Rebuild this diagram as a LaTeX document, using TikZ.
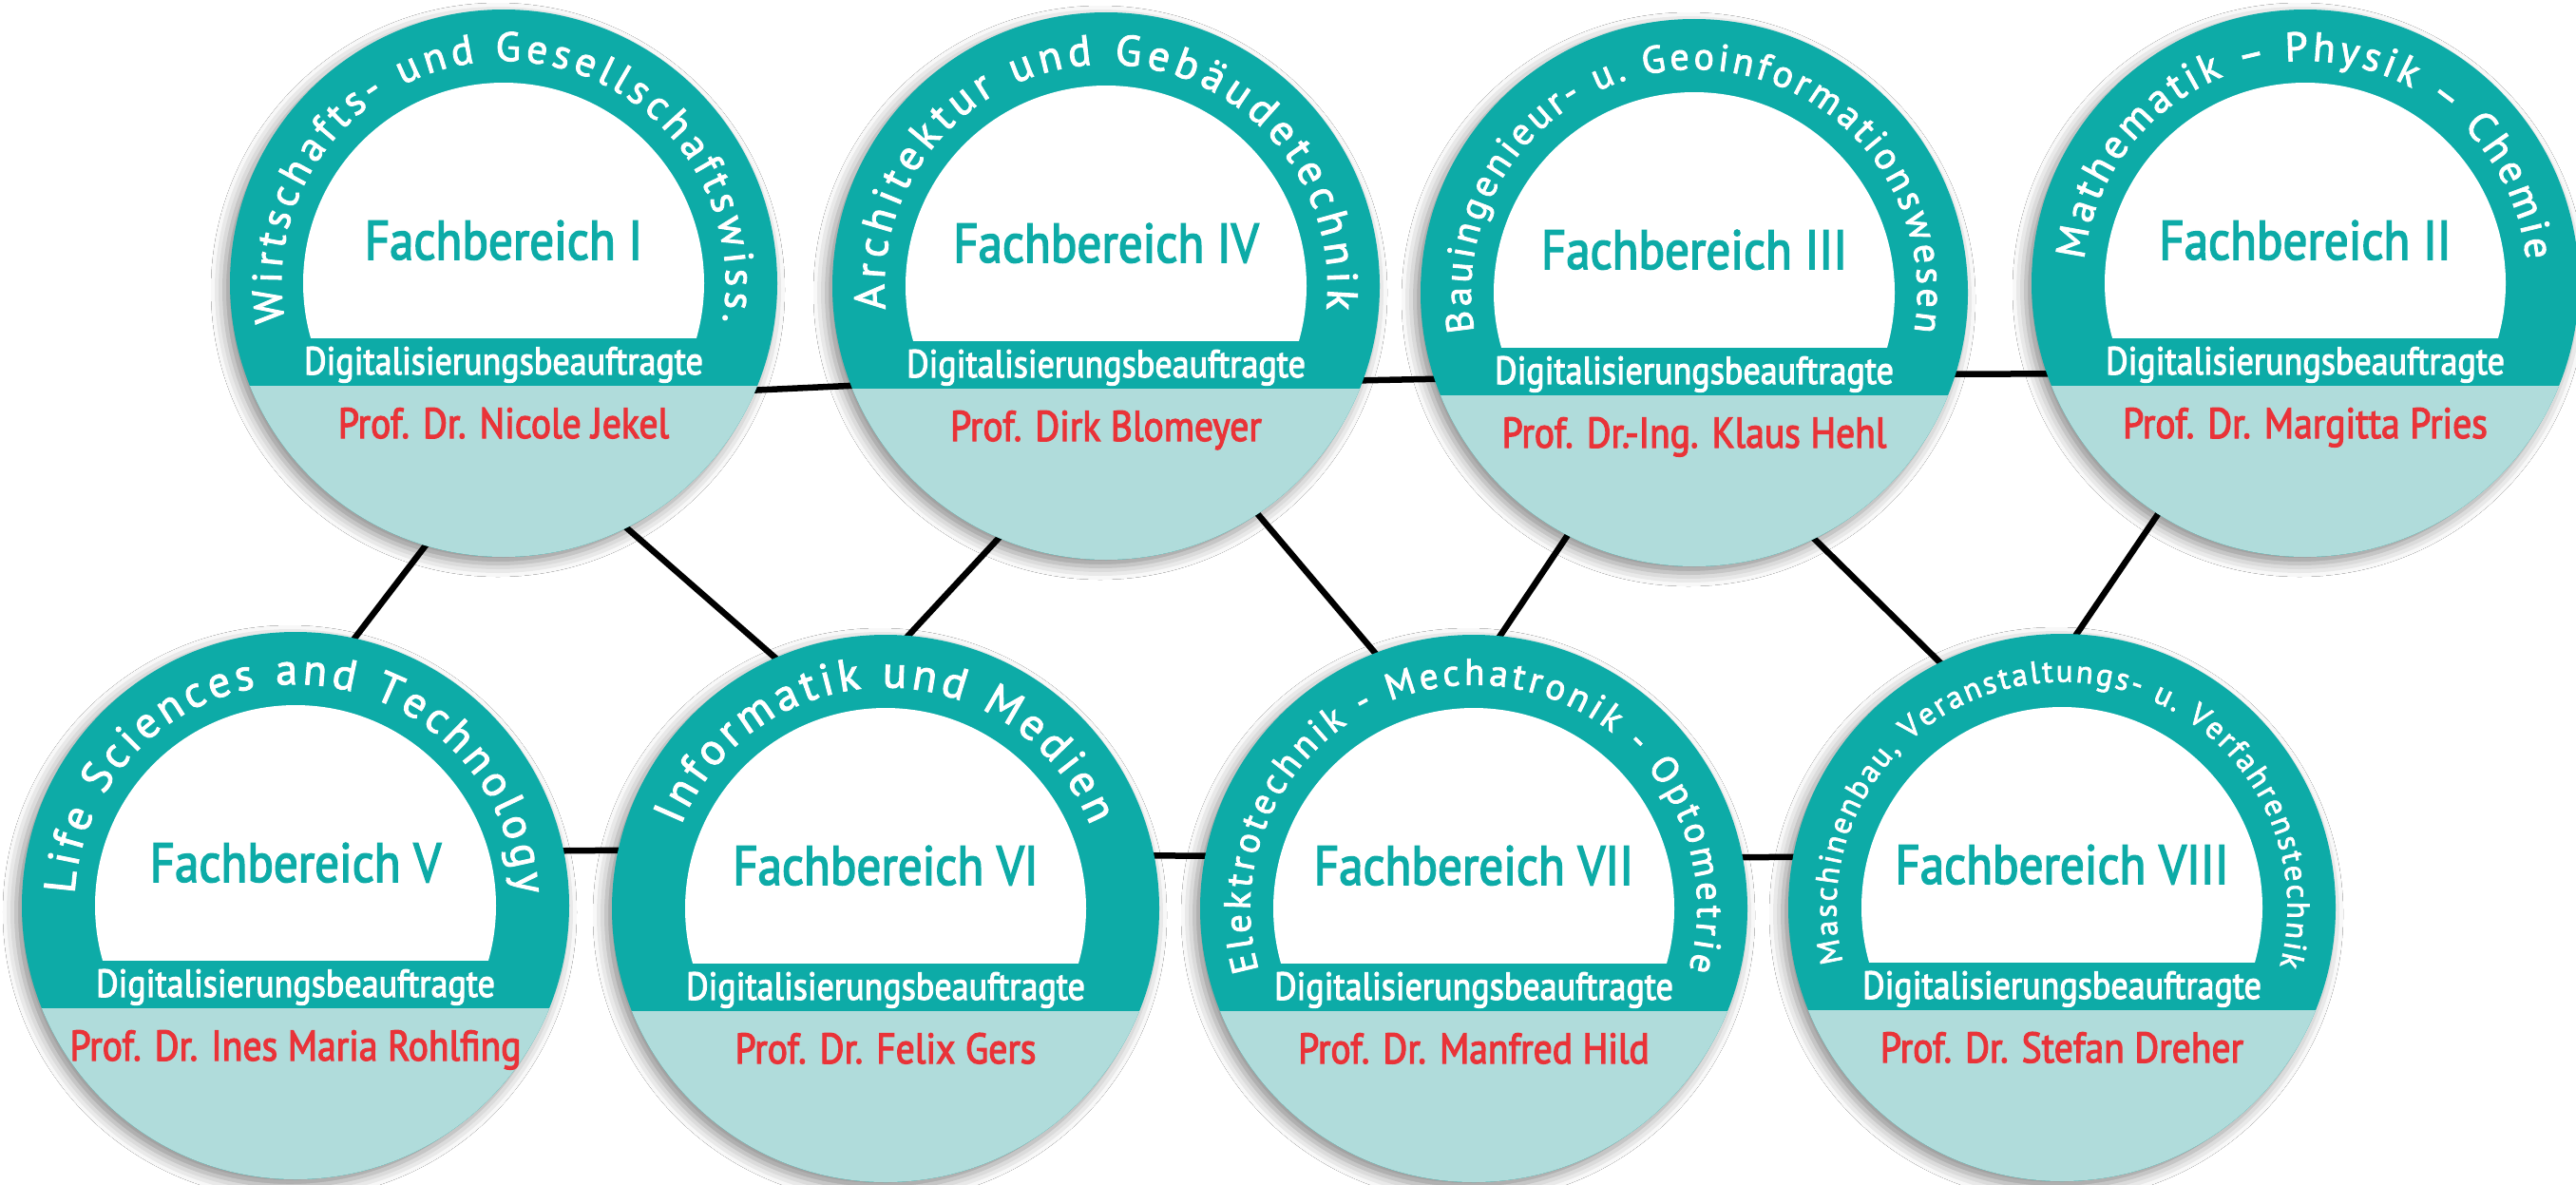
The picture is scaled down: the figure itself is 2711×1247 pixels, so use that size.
\documentclass[tikz,border=0pt]{standalone}
\usepackage{fontspec}
\setmainfont{PT Sans}[FakeStretch=0.88, FakeBold=2.6]
\newfontfamily\arcfont{PT Sans}[FakeBold=2.2]
\usetikzlibrary{calc,decorations.text,shadows.blur,backgrounds}

\definecolor{fbteal}{HTML}{0DABA7}
\definecolor{fblight}{HTML}{B0DCDB}
\definecolor{fbred}{HTML}{E93338}

\tikzset{
  disc/.style={circle, minimum size=576pt, inner sep=0pt, fill=fbteal,
    blur shadow={shadow xshift=-6pt, shadow yshift=-7pt,
                 shadow blur radius=14pt, shadow opacity=45}},
  fbtitle/.style={anchor=base, inner sep=0pt, text=fbteal,
    font=\fontsize{58pt}{58pt}\selectfont},
  fbrole/.style={anchor=base, inner sep=0pt, text=white,
    font=\fontsize{41pt}{41pt}\selectfont},
  fbname/.style={anchor=base, inner sep=0pt, text=fbred,
    font=\fontsize{45pt}{45pt}\selectfont},
  link/.style={line width=6.5pt, black},
}

% #1 name, #2/#3 centre, #4 arc font size, #5/#6 arc angles,
% #7 arc caption, #8 numeral, #9 person
\newcommand\fbdisc[9]{%
  \node[disc] (#1) at (#2,-#3) {};
  \begin{scope}
    \clip (#1.center) circle (288);
    \fill[fblight] ($(#1.center)+(-300,-108)$) rectangle ($(#1.center)+(300,-300)$);
  \end{scope}
  \begin{scope}
    \clip ($(#1.center)+(-300,-57)$) rectangle ($(#1.center)+(300,300)$);
    \fill[white] (#1.center) circle (211);
  \end{scope}
  \pgfmathsetmacro\arcrad{249-0.35*#4}
  \path[decorate, decoration={text along path, text color=white,
      text align={fit to path},
      text={|\arcfont\fontsize{#4pt}{#4pt}\selectfont|#7}}]
    ($(#1.center)+(#5:\arcrad)$) arc[start angle=#5, end angle=#6, radius=\arcrad];
  \node[fbtitle] at ($(#1.center)+(0,25)$) {Fachbereich #8};
  \node[fbrole] at ($(#1.center)+(0,-96)$) {Digitalisierungsbeauftragte};
  \node[fbname] at ($(#1.center)+(0,-163)$) {#9};
}

\begin{document}
\begin{tikzpicture}[x=1pt, y=1pt]
\useasboundingbox (0,0) rectangle (2711,-1247);

\fbdisc{fbI}{530}{298}{43}{190}{-10}{Wirtschafts- und Gesellschaftswiss.}{I}{Prof. Dr. Nicole Jekel}
\fbdisc{fbIV}{1164}{301}{45}{186}{-6}{Architektur und Gebäudetechnik}{IV}{Prof. Dirk Blomeyer}
\fbdisc{fbIII}{1783}{308}{40}{190}{-10}{Bauingenieur- u. Geoinformationswesen}{III}{Prof. Dr.-Ing. Klaus Hehl}
\fbdisc{fbII}{2426}{298}{43}{174}{6}{Mathematik – Physik – Chemie}{II}{Prof. Dr. Margitta Pries}
\fbdisc{fbV}{311}{953}{46}{177}{3}{Life Sciences and Technology}{V}{Prof. Dr. Ines Maria Rohlfing}
\fbdisc{fbVI}{932}{956}{47}{158}{22}{Informatik und Medien}{VI}{Prof. Dr. Felix Gers}
\fbdisc{fbVII}{1551}{956}{39}{196}{-16}{Elektrotechnik - Mechatronik - Optometrie}{VII}{Prof. Dr. Manfred Hild}
\fbdisc{fbVIII}{2170}{955}{33}{194}{-15}{Maschinenbau, Veranstaltungs- u. Verfahrenstechnik}{VIII}{Prof. Dr. Stefan Dreher}

\begin{scope}[on background layer]
  \fill[white] (0,0) rectangle (2711,-1247);
  % upper row
  \draw[link] ($(fbI)+(170,-117)$) -- ($(fbIV)+(-164,-100)$);
  \draw[link] ($(fbIV)+(186,-101)$) -- ($(fbIII)+(-183,-89)$);
  \draw[link] ($(fbIII)+(197,-86)$) -- ($(fbII)+(-176,-95)$);
  % diagonals between the rows
  \draw[link] ($(fbI)+(-50,-234)$) -- ($(fbV)+(29,238)$);
  \draw[link] ($(fbI)+(90,-223)$) -- ($(fbVI)+(-82,234)$);
  \draw[link] ($(fbIV)+(-84,-234)$) -- ($(fbVI)+(8,270)$);
  \draw[link] ($(fbIV)+(136,-212)$) -- ($(fbVII)+(-71,230)$);
  \draw[link] ($(fbIII)+(-113,-225)$) -- ($(fbVII)+(9,259)$);
  \draw[link] ($(fbIII)+(107,-240)$) -- ($(fbVIII)+(-100,230)$);
  \draw[link] ($(fbII)+(-136,-215)$) -- ($(fbVIII)+(0,265)$);
  % lower row
  \draw[link] ($(fbV)+(189,57)$) -- ($(fbVI)+(-182,62)$);
  \draw[link] ($(fbVI)+(168,56)$) -- ($(fbVII)+(-171,55)$);
  \draw[link] ($(fbVII)+(169,53)$) -- ($(fbVIII)+(-170,54)$);
\end{scope}
\end{tikzpicture}
\end{document}
